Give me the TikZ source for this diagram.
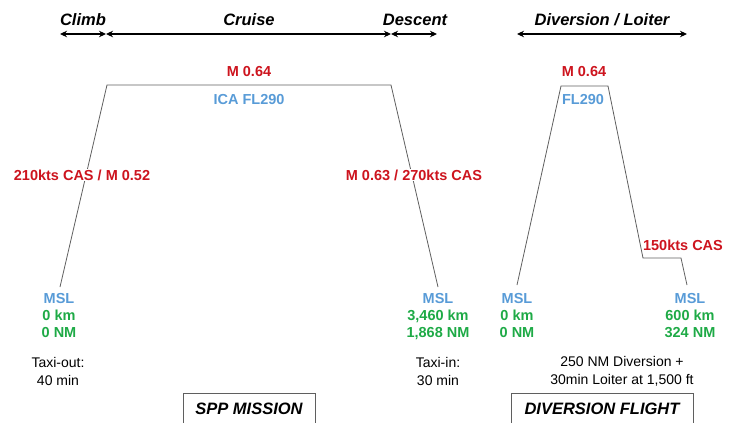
\documentclass[tikz,border=0pt]{standalone}
\usepackage{fontspec}
\setmainfont{Liberation Sans}
\usetikzlibrary{arrows.meta}
\definecolor{spdred}{RGB}{205,20,30}
\definecolor{altblue}{RGB}{88,155,215}
\definecolor{distgreen}{RGB}{30,170,70}
\definecolor{profgray}{RGB}{95,95,95}
\begin{document}
\begin{tikzpicture}[x=1pt,y=-1pt,
    phase/.style={font=\fontsize{16.5}{19}\selectfont\bfseries\itshape},
    span/.style={{Stealth[length=7pt,width=6.5pt]}-{Stealth[length=7pt,width=6.5pt]},line width=1.1pt},
    profile/.style={draw=profgray,line width=0.8pt},
    spd/.style={text=spdred,font=\fontsize{14.5}{17}\selectfont\bfseries,fill=white,inner sep=1pt},
    alt/.style={text=altblue,font=\fontsize{14.5}{17}\selectfont\bfseries,inner sep=1pt},
    point/.style={align=center,font=\fontsize{14.5}{17}\selectfont\bfseries,inner sep=0pt},
    note/.style={align=center,font=\fontsize{14}{18}\selectfont,inner sep=0pt},
    title/.style={draw=profgray,line width=0.8pt,font=\fontsize{16.5}{19}\selectfont\bfseries\itshape,inner sep=0pt}]
    \useasboundingbox (0,0) rectangle (729,423);

    % phases of the mission
    \node[phase] (climb) at (83,20) {Climb};
    \node[phase] (cruise) at (249,20) {Cruise};
    \node[phase] (descent) at (415,20) {Descent};
    \node[phase] (divert) at (602,20) {Diversion / Loiter};
    \coordinate (a0) at (60,34);
    \coordinate (a1) at (106,34);
    \coordinate (a2) at (391,34);
    \coordinate (a3) at (437,34);
    \coordinate (a4) at (517,34);
    \coordinate (a5) at (687,34);
    \draw[span] (a0) -- (a1);
    \draw[span] (a1) -- (a2);
    \draw[span] (a2) -- (a3);
    \draw[span] (a4) -- (a5);

    % profile of the SPP mission
    \coordinate (m0) at (60,287);
    \coordinate (m1) at (107,85);
    \coordinate (m2) at (391,85);
    \coordinate (m3) at (438,287);
    \path[profile] (m0) -- (m1) -- (m2) -- (m3);
    \node[spd,fill=none] (cruisespd) at (249,72) {M 0.64};
    \node[alt] (cruisealt) at (249,100) {ICA FL290};
    \node[spd] (climbspd) at (82,175) {210kts CAS / M 0.52};
    \node[spd] (descspd) at (414,175) {M 0.63 / 270kts CAS};

    % profile of the diversion flight
    \coordinate (d0) at (517,285);
    \coordinate (d1) at (561,86);
    \coordinate (d2) at (608,86);
    \coordinate (d3) at (643,258);
    \coordinate (d4) at (681,258);
    \coordinate (d5) at (687,285);
    \path[profile] (d0) -- (d1) -- (d2) -- (d3) -- (d4) -- (d5);
    \node[spd,fill=none] (divspd) at (584,72) {M 0.64};
    \node[alt] (divalt) at (583,100) {FL290};
    \node[spd,fill=none] (loiterspd) at (683,245) {150kts CAS};

    % end points
    \node[point,anchor=north] (start) at (59,293) {\textcolor{altblue}{MSL}\\\textcolor{distgreen}{0 km}\\\textcolor{distgreen}{0 NM}};
    \node[point,anchor=north] (dest) at (438,293) {\textcolor{altblue}{MSL}\\\textcolor{distgreen}{3,460 km}\\\textcolor{distgreen}{1,868 NM}};
    \node[point,anchor=north] (altstart) at (517,293) {\textcolor{altblue}{MSL}\\\textcolor{distgreen}{0 km}\\\textcolor{distgreen}{0 NM}};
    \node[point,anchor=north] (altdest) at (690,293) {\textcolor{altblue}{MSL}\\\textcolor{distgreen}{600 km}\\\textcolor{distgreen}{324 NM}};
    \node[note] (taxiout) at (58,371) {Taxi-out:\\40 min};
    \node[note] (taxiin) at (438,371) {Taxi-in:\\30 min};
    \node[note] (divnote) at (622,371) {250 NM Diversion +\\30min Loiter at 1,500 ft};

    % titles
    \node[title,minimum width=132pt,minimum height=32pt] (spp) at (249,409) {SPP MISSION};
    \node[title,minimum width=182pt,minimum height=32pt] (divflight) at (602,409) {DIVERSION FLIGHT};
\end{tikzpicture}
\end{document}
